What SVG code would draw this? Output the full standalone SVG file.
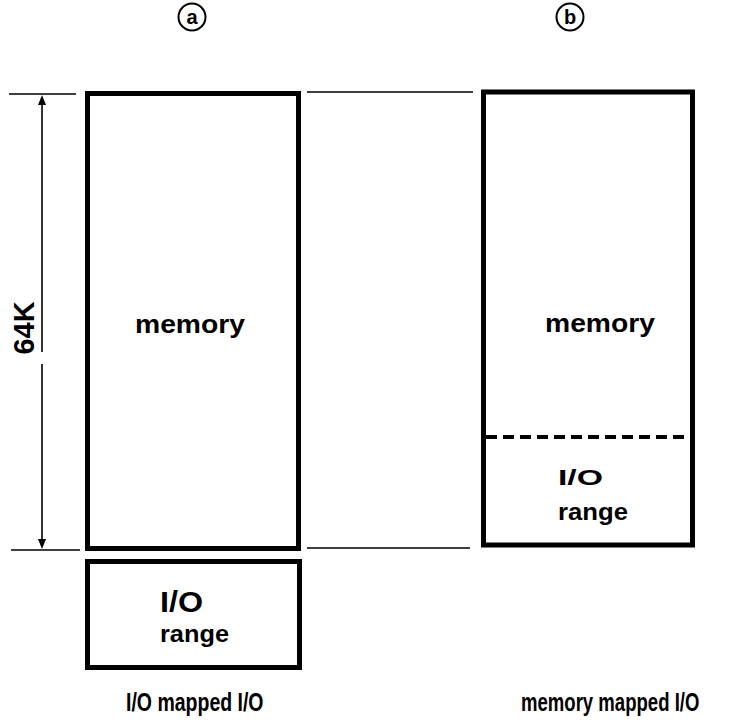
<svg xmlns="http://www.w3.org/2000/svg" width="732" height="723" viewBox="0 0 732 723">
<style>
text{font-family:"Liberation Sans",Arial,sans-serif;font-weight:bold;fill:#000}
.box{fill:none;stroke:#000;stroke-width:5}
.thin{stroke:#000;stroke-width:1.6;fill:none}
.dash{stroke:#000;stroke-width:4;stroke-dasharray:11 6;fill:none}
.tag{fill:none;stroke:#000;stroke-width:2}
</style>
<g id="label-a">
<circle class="tag" cx="192" cy="17" r="13.5"/>
<text x="192" y="24" font-size="20" text-anchor="middle">a</text>
</g>
<g id="label-b">
<circle class="tag" cx="570" cy="17" r="13.5"/>
<text x="570" y="24" font-size="20" text-anchor="middle">b</text>
</g>
<g id="connectors">
<line class="thin" x1="9" y1="94" x2="76" y2="94"/>
<line class="thin" x1="307" y1="92" x2="473" y2="92"/>
<line class="thin" x1="11" y1="550" x2="80" y2="550"/>
<line class="thin" x1="307" y1="548" x2="470" y2="548"/>
<line class="thin" x1="42" y1="104" x2="42" y2="352"/>
<line class="thin" x1="42" y1="364" x2="42" y2="540"/>
<path d="M42,95 L38,105 L46,105 Z" fill="#000"/>
<path d="M42,549 L38,539 L46,539 Z" fill="#000"/>
</g>
<g id="dimension">
<text transform="translate(34,328) rotate(-90)" font-size="29" text-anchor="middle" textLength="53" lengthAdjust="spacingAndGlyphs">64K</text>
</g>
<g id="memory-a">
<rect class="box" x="87.5" y="93.5" width="211" height="455"/>
<text x="190" y="333" font-size="26" text-anchor="middle" textLength="110" lengthAdjust="spacingAndGlyphs">memory</text>
</g>
<g id="io-range-a">
<rect class="box" x="87.5" y="561.5" width="212" height="106"/>
<text x="160" y="612" font-size="29" textLength="43" lengthAdjust="spacingAndGlyphs">I/O</text>
<text x="160" y="642" font-size="23" textLength="69" lengthAdjust="spacingAndGlyphs">range</text>
</g>
<g id="memory-b">
<rect class="box" x="483.5" y="92" width="209" height="453"/>
<line class="dash" x1="486" y1="437" x2="690" y2="437"/>
<text x="600" y="332" font-size="26" text-anchor="middle" textLength="110" lengthAdjust="spacingAndGlyphs">memory</text>
<text x="558" y="485" font-size="22" textLength="45" lengthAdjust="spacingAndGlyphs">I/O</text>
<text x="558" y="520" font-size="23" textLength="70" lengthAdjust="spacingAndGlyphs">range</text>
</g>
<g id="captions">
<text transform="translate(126,711) scale(0.75,1)" font-size="26">I/O mapped I/O</text>
<text transform="translate(521,711) scale(0.714,1)" font-size="26">memory mapped I/O</text>
</g>
</svg>
